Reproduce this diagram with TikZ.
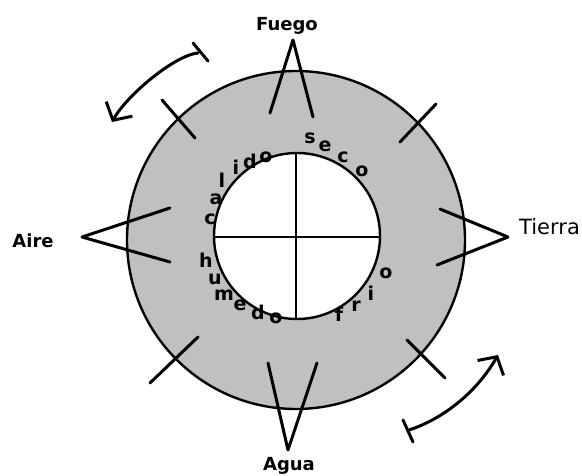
\documentclass[tikz,border=0pt]{standalone}
\usepackage{fontspec}
\setmainfont{DejaVu Sans}
\usetikzlibrary{arrows.meta}
\definecolor{ringgray}{RGB}{192,192,192}
\begin{document}
\begin{tikzpicture}[x=1pt,y=-1pt,
  outline/.style={draw=black,line width=2.4pt},
  sym/.style={draw=black,line width=3pt,line join=round,line cap=round},
  lbl/.style={font=\fontsize{18}{20}\selectfont\bfseries,inner sep=0pt,anchor=base},
  ltr/.style={font=\fontsize{19}{20}\selectfont\bfseries,inner sep=0pt},
  curv/.style={draw=black,line width=3pt,line cap=round,
    -{Straight Barb[length=13pt,width=30pt,line width=3pt]}},
  tbar/.style={draw=black,line width=3pt,line cap=round}]
\useasboundingbox (0,0) rectangle (582,476);
\fill[white] (0,0) rectangle (582,476);
% ring
\draw[outline,fill=ringgray] (296,240) circle[radius=169];
% ticks on the outer circle
\draw[sym] (162,100) -- (195,138);
\draw[sym] (400,142) -- (436,104);
\draw[sym] (150,383) -- (198,337);
\draw[sym] (407,340) -- (445,378);
% element symbols
\draw[sym] (270,113) -- (293,40) -- (313,117);
\draw[sym] (268,363) -- (288,450) -- (317,363);
\draw[sym] (170,208) -- (82,237) -- (170,262);
\draw[sym] (440,209) -- (508,237) -- (437,265);
% inner circle
\draw[outline,fill=white] (297,236) circle[radius=83];
\draw[outline] (214,237) -- (380,237);
\draw[outline] (296,153) -- (296,319);
% labels
\node[lbl] (fuego) at (287,31) {Fuego};
\node[lbl] (agua) at (289,470) {Agua};
\node[lbl] (aire) at (33,248) {Aire};
\node[lbl,anchor=base west,font=\fontsize{21}{22}\selectfont] (tierra) at (519,235) {Tierra};
% letters around the inner circle
\foreach \ch/\px/\py [count=\k] in {c/210/219,a/216/199,l/222/180,i/236/167,d/250/161,o/266/157,
    s/310/138,e/325/146,c/343/157,o/362/171,
    f/339/314,r/356/306,i/371/293,o/386/273,
    h/206/260,u/215/279,m/224/295,e/240/305,d/258/312,o/276/318}
  \node[ltr] (L\k) at (\px,\py) {\ch};
% curved arrows
\coordinate (a1s) at (198,53);
\coordinate (a1e) at (112,122);
\draw[curv] (a1s) .. controls (175,55) and (127,95) .. (a1e);
\coordinate (b1a) at (193,43);
\coordinate (b1b) at (208,61);
\draw[tbar] (b1a) -- (b1b);
\coordinate (a2s) at (409,430);
\coordinate (a2e) at (498,355);
\draw[curv] (a2s) .. controls (440,420) and (475,395) .. (a2e);
\coordinate (b2a) at (403,420);
\coordinate (b2b) at (413,442);
\draw[tbar] (b2a) -- (b2b);
\end{tikzpicture}
\end{document}
